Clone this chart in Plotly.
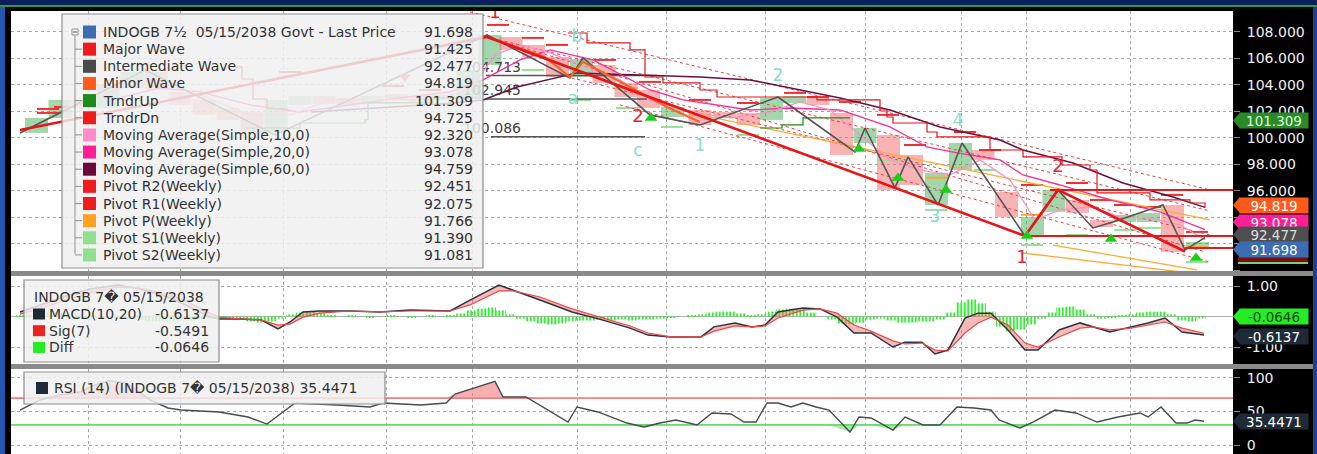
import plotly.graph_objects as go

# ---------------- data (day index, 1 day ~ 1 trading day) ----------------
month_ticks = [15.4, 33.8, 54.4, 75.0, 92.2, 113.2, 131.0, 150.8, 170.8, 190.0, 203.0, 223.8]

# weekly candles of the last price
candle_day = [5.1, 9.8, 14.6, 19.4, 24.2, 29.0, 33.8, 38.6, 43.4, 48.2, 53.0, 57.8, 62.6, 67.4,
              72.2, 77.0, 81.8, 86.6, 91.4, 95.8, 100.0, 104.5, 109.3, 114.1, 118.6, 123.0,
              127.5, 132.3, 137.8, 142.8, 147.5, 152.1, 156.7, 161.4, 166.1, 170.8, 175.5,
              180.1, 185.1, 189.9, 194.4, 199.1, 204.3, 208.6, 213.3, 218.1, 222.8, 227.5,
              232.3, 237.3]
candle_open = [100.38, 101.51, 102.87, 102.26, 103.77, 104.98, 103.47, 102.87, 102.26, 101.96,
               100.45, 102.49, 103.17, 103.02, 102.57, 103.32, 103.17, 102.87, 103.02, 105.51,
               107.62, 107.02, 106.11, 104.60, 105.51, 104.15, 103.62, 101.58, 102.11, 101.96,
               101.89, 101.36, 102.64, 103.09, 101.89, 99.62, 100.23, 98.72, 94.94, 97.58,
               99.09, 95.93, 92.68, 94.42, 95.32, 93.81, 93.66, 93.66, 94.94, 91.70]
candle_close = [101.51, 102.87, 102.26, 104.00, 104.98, 103.62, 102.49, 101.74, 101.36, 100.45,
                102.87, 103.17, 102.57, 102.42, 103.17, 102.87, 102.72, 103.25, 105.13, 107.77,
                106.64, 106.11, 104.60, 105.96, 104.15, 103.09, 102.26, 102.34, 100.98, 101.51,
                100.98, 103.02, 103.17, 102.49, 98.72, 100.75, 96.08, 96.45, 97.36, 99.62,
                98.34, 94.04, 94.04, 96.08, 94.34, 93.28, 94.19, 94.34, 91.40, 92.15]

major_day = [1.8, 95.2, 202.8, 209.4, 234.8]
major_px = [100.60, 107.62, 92.60, 96.08, 91.43]

inter_day = [1.8, 26.8, 52.8, 95.2, 111.8, 114.4, 127.8, 137.8, 153.4, 168.8, 170.8, 176.8,
             179.4, 185.4, 190.2, 202.8, 209.4, 216.4, 220.4, 230.4, 234.8, 238.8]
inter_px = [100.38, 105.13, 100.23, 107.77, 104.53, 106.04, 101.74, 100.98, 103.09, 98.94, 100.75,
            96.23, 98.57, 94.94, 99.62, 92.60, 96.08, 93.21, 93.66, 94.94, 91.55, 92.48]

minor_day = [95.2, 106.8, 111.8, 114.4, 131.2, 137.8, None, 202.8, 209.4]
minor_px = [107.62, 106.11, 104.60, 105.74, 102.34, 101.21, None, 92.60, 96.08]

level_px = [96.08, 92.60, 91.70]
level_from = [207.8, 202.8, 234.8]

trdn_day = [44.4, 46.2, 48.4, 51.2, 55.2, None, 111.4, 115.2, 123.8, 126.8, 130.4, 137.8, 141.2,
            161.2, 173.8, 175.2, 176.4, 183.2, 185.2, 195.8, 202.4, 210.2, 215.8, 217.2, 227.8,
            235.8, 238.8]
trdn_px = [105.36, 104.45, 102.94, 102.19, 102.11, None, 107.92, 107.17, 106.64, 104.60, 104.15,
           103.62, 103.09, 102.87, 102.11, 101.58, 101.13, 100.45, 100.08, 99.09, 98.57, 97.96,
           97.58, 95.85, 95.32, 95.09, 94.73]

trup_day = [46.8, 57.8, 70.8, 71.4, 84.4, 93.8, None, 149.8, 154.2, 158.4, 167.8]
trup_px = [100.75, 101.13, 101.36, 102.64, 103.02, 104.38, None, 100.75, 100.98, 101.51, 101.51]

ma60_day = [60.0, 73.8, 85.8, 94.4, 101.2, 113.2, 127.8, 137.8, 147.8, 155.8, 165.8, 175.8, 185.8,
            197.8, 202.4, 212.4, 222.4, 232.4, 238.8]
ma60_px = [101.96, 102.26, 102.57, 102.87, 103.85, 104.91, 104.75, 104.60, 104.38, 103.77, 103.02,
           102.11, 100.83, 99.85, 99.09, 98.11, 96.60, 95.55, 94.76]

ma20_day = [20.0, 29.8, 37.8, 47.8, 57.8, 67.8, 77.8, 87.8, 94.4, 101.8, 107.8, 116.4, 127.8, 134.4,
            147.8, 155.8, 165.8, 175.8, 183.2, 189.2, 197.8, 202.4, 209.8, 219.8, 229.8, 238.8]
ma20_px = [102.87, 103.77, 103.47, 102.49, 101.96, 102.49, 103.02, 103.47, 104.38, 105.89, 106.64,
           105.89, 103.62, 102.87, 102.11, 102.26, 102.11, 100.83, 99.32, 98.87, 98.34, 97.21,
           96.45, 95.32, 94.42, 93.08]

ma10_day = [10.0, 17.8, 27.8, 37.8, 47.8, 55.8, 63.8, 73.8, 83.8, 91.8, 96.8, 101.8, 107.8, 113.8,
            121.8, 127.8, 135.8, 143.8, 151.8, 157.8, 163.8, 169.8, 175.8, 181.8, 187.8, 193.8,
            199.8, 204.8, 209.8, 215.8, 221.8, 227.8, 233.8, 238.8]
ma10_px = [102.11, 103.25, 104.38, 103.25, 101.74, 101.74, 102.87, 102.87, 102.87, 103.62, 106.26,
           107.02, 106.42, 105.51, 104.38, 102.87, 101.96, 101.51, 101.96, 102.72, 102.11, 100.23,
           98.34, 97.58, 97.21, 98.34, 96.83, 93.81, 94.57, 94.79, 94.04, 93.96, 93.43, 92.32]

# regression / fan channel lines (start day, start price, end day, end price)
chan_red_x0 = [91.8, 95.2, 95.2, 109.8, 121.8]
chan_red_y0 = [109.51, 107.62, 107.62, 104.75, 102.49]
chan_red_x1 = [239.8, 239.8, 238.8, 239.8, 239.8]
chan_red_y1 = [96.08, 94.49, 91.40, 92.68, 90.64]
chan_org_x0 = [137.8, 202.4, 208.4]
chan_org_y0 = [101.74, 91.32, 91.92]
chan_org_x1 = [239.8, 235.8, 237.2]
chan_org_y1 = [93.81, 89.81, 90.04]

# weekly pivot dashes
pivot_r_day = [7.4, 7.4, 10.8, 55.8, 76.4, 83.8, 97.4, 104.4, 109.2, 118.8, 127.8, 137.8, 147.4,
               156.8, 161.4, 167.8, 175.4, 180.8, 190.8, 195.8, 204.2, 213.2, 218.0, 222.8,
               227.8, 232.2, 237.2]
pivot_r_px = [102.19, 101.89, 102.34, 104.98, 103.92, 103.62, 108.53, 107.55, 107.02, 105.89,
              104.23, 102.87, 102.64, 103.40, 103.09, 102.72, 101.74, 99.47, 100.45, 99.09,
              96.45, 96.60, 95.32, 94.94, 94.79, 95.70, 92.91]
pivot_p_day = [123.2, 137.8, 185.0, 204.2, 237.2]
pivot_p_px = [103.77, 101.74, 97.00, 94.20, 91.77]
pivot_s_day = [104.4, 113.8, 123.2, 132.2, 147.4, 175.4, 185.0, 194.8, 204.2, 213.2, 222.8, 227.8,
               237.2]
pivot_s_px = [105.13, 102.87, 102.26, 100.83, 100.23, 98.34, 94.57, 97.58, 91.92, 92.68, 93.06,
              93.21, 90.64]

fib_px = [104.713, 102.945, 100.086]
fib_from = [95.0, 95.0, 96.0]
fib_to = [129.2, 127.2, 126.8]
fib_label_day = [96.2, 96.2, 96.2]

wave_red_txt = ["1", "2", "1", "2"]
wave_red_day = [96.8, 125.4, 202.2, 209.4]
wave_red_px = [109.40, 101.51, 90.94, 97.74]
wave_teal_txt = ["b", "a", "c", "1", "2", "4", "3"]
wave_teal_day = [113.2, 112.4, 125.4, 137.8, 153.4, 189.4, 184.8]
wave_teal_px = [107.55, 102.87, 98.94, 99.32, 104.60, 101.21, 93.96]

up_day = [128.0, 169.6, 177.4, 187.0, 203.2, 220.0, 237.0]
up_px = [101.51, 99.17, 96.98, 96.08, 92.60, 92.38, 90.94]
dn_day = [78.8]
dn_px = [104.60]

# MACD panel
macd_day = [1.8, 5.8, 10.4, 15.8, 21.4, 25.8, 31.4, 35.8, 39.8, 41.6, 45.8, 50.0, 53.4, 55.8, 58.4,
            61.8, 67.8, 73.8, 79.8, 87.8, 91.8, 97.6, 100.4, 105.8, 112.2, 118.2, 123.8, 127.4,
            132.0, 138.0, 140.6, 144.8, 148.2, 150.8, 153.4, 158.4, 161.8, 165.2, 168.6, 172.0,
            176.4, 178.8, 182.2, 184.8, 187.4, 190.8, 193.4, 196.0, 199.4, 202.8, 205.4, 209.6,
            213.8, 216.4, 219.8, 224.0, 227.4, 230.8, 234.2, 238.6]
macd_val = [0.15, 0.38, 0.64, 0.90, 1.03, 0.90, 0.64, 0.31, -0.02, -0.08,
            -0.08, -0.11, -0.41, -0.18, 0.15, 0.18, 0.18, 0.15, 0.21, 0.18,
            0.54, 1.03, 0.87, 0.54, 0.15, -0.11, -0.38, -0.61, -0.67, -0.67,
            -0.34, -0.21, -0.34, -0.28, 0.15, 0.28, 0.25, -0.02, -0.54, -0.54,
            -1.00, -0.84, -0.84, -1.23, -1.10, -0.05, 0.11, 0.11, -0.44, -1.10,
            -1.10, -0.44, -0.21, -0.34, -0.51, -0.34, -0.21, -0.05, -0.51, -0.61]
sig_val = [0.08, 0.25, 0.51, 0.77, 0.97, 0.93, 0.74, 0.44, 0.11, -0.02,
           -0.08, -0.11, -0.28, -0.25, -0.02, 0.11, 0.18, 0.15, 0.18, 0.18,
           0.38, 0.84, 0.84, 0.64, 0.25, -0.05, -0.31, -0.54, -0.67, -0.67,
           -0.48, -0.31, -0.34, -0.31, -0.05, 0.21, 0.25, 0.11, -0.28, -0.48,
           -0.80, -0.90, -0.87, -1.10, -1.13, -0.54, -0.21, -0.02, -0.28, -0.87,
           -1.00, -0.67, -0.38, -0.34, -0.44, -0.38, -0.28, -0.18, -0.38, -0.55]
diff_day = list(range(0, 240, 2))
diff_val = [0, .03, .07, .10, .13, .13, .10, .07, .03, 0,
            -.03, -.07, -.10, -.13, -.16, -.16, -.16, -.13, -.13, -.10,
            -.07, -.03, -.07, -.10, -.16, -.20, -.16, -.07, .07, .13,
            .16, .10, .03, 0, .03, 0, -.03, 0, .03, 0,
            -.03, 0, .03, 0, .03, .10, .20, .26, .30, .20,
            .07, -.07, -.16, -.23, -.26, -.23, -.16, -.13, -.13, -.10,
            -.13, -.10, -.13, -.10, -.10, -.07, -.03, 0, .03, .07,
            .13, .16, .16, .10, .03, .07, .16, .23, .26, .23,
            .13, 0, -.10, -.23, -.26, -.20, -.10, -.07, -.13, -.20,
            -.20, -.16, -.16, -.10, .13, .46, .56, .43, .16, -.33,
            -.49, -.43, -.26, -.07, .13, .30, .33, .23, .07, -.07,
            -.03, .03, .07, .13, .16, .16, .07, -.13, -.16, -.06]

# RSI panel
rsi_day = [1.8, 5.8, 9.8, 13.8, 16.8, 19.6, 23.0, 27.8, 31.4, 34.0, 41.6, 47.4, 51.2, 56.8, 65.2,
           71.8, 74.4, 82.0, 87.0, 88.8, 96.8, 98.4, 103.0, 106.4, 111.4, 113.2, 117.4, 123.2,
           126.6, 129.8, 133.0, 137.2, 140.2, 144.0, 146.6, 149.0, 151.2, 153.4, 156.0, 158.4,
           161.0, 163.6, 167.8, 169.6, 172.0, 176.4, 178.8, 182.4, 185.8, 189.2, 192.6, 196.0,
           197.6, 201.8, 204.4, 208.8, 213.0, 217.2, 221.4, 225.8, 227.4, 230.0, 233.0, 235.2,
           236.8, 238.6]
rsi_val = [52.2, 67.2, 74.6, 79.1, 89.6, 96.0, 92.5, 67.2, 55.2, 52.2,
           49.3, 41.8, 31.3, 62.7, 59.7, 56.7, 62.7, 59.7, 62.7, 76.1,
           95.0, 71.6, 71.6, 56.7, 34.3, 56.7, 49.3, 32.8, 26.9, 32.8,
           37.3, 29.9, 47.8, 46.3, 34.3, 34.3, 62.7, 62.7, 56.7, 62.7,
           56.7, 52.2, 19.4, 41.8, 40.3, 22.4, 41.8, 29.9, 29.9, 56.7,
           55.2, 52.2, 37.3, 25.4, 34.3, 52.2, 47.8, 34.3, 41.8, 47.8,
           41.8, 56.7, 32.8, 32.8, 37.3, 35.45]

legend_names = ["INDOGB 7\u00bd  05/15/2038 Govt - Last Price", "Major Wave", "Intermediate Wave",
                "Minor Wave", "TrndrUp", "TrndrDn", "Moving Average(Simple,10,0)",
                "Moving Average(Simple,20,0)", "Moving Average(Simple,60,0)", "Pivot R2(Weekly)",
                "Pivot R1(Weekly)", "Pivot P(Weekly)", "Pivot S1(Weekly)", "Pivot S2(Weekly)"]
legend_values = ["91.698", "91.425", "92.477", "94.819", "101.309", "94.725", "92.320", "93.078",
                 "94.759", "92.451", "92.075", "91.766", "91.390", "91.081"]
legend_colors = ["#3b6db3", "#ee1c1c", "#4a4a4a", "#ff5a1a", "#1e8a1e", "#ee1c1c", "#ff8cc8",
                 "#ff1e96", "#6a0a3c", "#ee1c1c", "#ee1c1c", "#ffa020", "#8fe08f", "#8fe08f"]

macd_leg_title = "INDOGB 7\ufffd 05/15/2038"
macd_leg_names = ["MACD(10,20)", "Sig(7)", "Diff"]
macd_leg_values = ["-0.6137", "-0.5491", "-0.0646"]
macd_leg_colors = ["#1e2a36", "#ee2020", "#22ee22"]
rsi_leg_text = "RSI (14) (INDOGB 7\ufffd 05/15/2038) 35.4471"

# ---------------- geometry helpers (layout only) ----------------
W, H = 1317, 454
PL, PR, PT = 11, 1233, 11
X_MAX = 244.4
FONT = "DejaVu Sans"


def fx(x):
    return (x - PL) / (PR - PL)


def fy(y):
    return (H - y) / (H - PT)


def segs(x0, y0, x1, y1):
    xs, ys = [], []
    for a, b, c, d in zip(x0, y0, x1, y1):
        xs += [a, c, None]
        ys += [b, d, None]
    return xs, ys


def dashes(days, vals, half=2.2):
    return segs([d - half for d in days], vals, [d + half for d in days], vals)


fig = go.Figure()
M = dict(xaxis="x", yaxis="y")

# candles
lo = [min(o, c) for o, c in zip(candle_open, candle_close)]
hi = [abs(c - o) for o, c in zip(candle_open, candle_close)]
cc = ["rgba(70,175,90,0.5)" if c >= o else "rgba(242,105,105,0.5)"
      for o, c in zip(candle_open, candle_close)]
fig.add_trace(go.Bar(x=candle_day, y=hi, base=lo, width=4.6, marker=dict(color=cc, line_width=0), **M))

# pivots
for d, v, c in [(pivot_s_day, pivot_s_px, "#98e098"), (pivot_p_day, pivot_p_px, "#ffa630"),
                (pivot_r_day, pivot_r_px, "#ee3030")]:
    xs, ys = dashes(d, v)
    fig.add_trace(go.Scatter(x=xs, y=ys, mode="lines", line=dict(color=c, width=2), **M))

# channels
xs, ys = segs(chan_red_x0, chan_red_y0, chan_red_x1, chan_red_y1)
fig.add_trace(go.Scatter(x=xs, y=ys, mode="lines", line=dict(color="#ee4040", width=1, dash="dot"), **M))
xs, ys = segs(chan_org_x0, chan_org_y0, chan_org_x1, chan_org_y1)
fig.add_trace(go.Scatter(x=xs, y=ys, mode="lines", line=dict(color="#ffaa33", width=1.3), **M))

# fib retracement lines
xs, ys = segs(fib_from, fib_px, fib_to, fib_px)
fig.add_trace(go.Scatter(x=xs, y=ys, mode="lines", line=dict(color="#555555", width=1.5), **M))
fig.add_trace(go.Scatter(x=fib_label_day, y=fib_px, mode="text", text=[f"{v:.3f}" for v in fib_px],
                         textposition="top center", textfont=dict(family=FONT, size=14, color="#404040"), **M))

# moving averages
fig.add_trace(go.Scatter(x=ma60_day, y=ma60_px, mode="lines", line=dict(color="#6a1040", width=1.5), **M))
fig.add_trace(go.Scatter(x=ma20_day, y=ma20_px, mode="lines", line=dict(color="#ff2d95", width=1.3), **M))
fig.add_trace(go.Scatter(x=ma10_day, y=ma10_px, mode="lines", line=dict(color="#ff90c8", width=1.3), **M))

# trend steps
fig.add_trace(go.Scatter(x=trup_day, y=trup_px, mode="lines", line=dict(color="#1e8a1e", width=1.2, shape="hv"), **M))
fig.add_trace(go.Scatter(x=trdn_day, y=trdn_px, mode="lines", line=dict(color="#e8141a", width=1.2, shape="hv"), **M))

# waves
fig.add_trace(go.Scatter(x=inter_day, y=inter_px, mode="lines", line=dict(color="#555555", width=1.6), **M))
fig.add_trace(go.Scatter(x=minor_day, y=minor_px, mode="lines", line=dict(color="#ff6020", width=2.2), **M))
fig.add_trace(go.Scatter(x=major_day, y=major_px, mode="lines", line=dict(color="#e8141a", width=2.6), **M))
xs, ys = segs(level_from, level_px, [X_MAX] * len(level_px), level_px)
fig.add_trace(go.Scatter(x=xs, y=ys, mode="lines", line=dict(color="#e31a1c", width=2), **M))

# markers and wave labels
fig.add_trace(go.Scatter(x=up_day, y=up_px, mode="markers",
                         marker=dict(symbol="triangle-up", size=11, color="#16d016"), **M))
fig.add_trace(go.Scatter(x=dn_day, y=dn_px, mode="markers",
                         marker=dict(symbol="triangle-down", size=10, color="#ff5a5a"), **M))
fig.add_trace(go.Scatter(x=wave_red_day, y=wave_red_px, mode="text", text=wave_red_txt,
                         textfont=dict(family=FONT, size=18, color="#e8262a"), **M))
fig.add_trace(go.Scatter(x=wave_teal_day, y=wave_teal_px, mode="text", text=wave_teal_txt,
                         textfont=dict(family=FONT, size=17, color="#88ddcc"), **M))

# MACD panel
M2 = dict(xaxis="x2", yaxis="y2")
fig.add_trace(go.Bar(x=diff_day, y=diff_val, width=2.0,
                     marker=dict(color="#33ee33", line_width=0,
                                 pattern=dict(shape="|", fillmode="replace", fgcolor="#33ee33",
                                              bgcolor="rgba(0,0,0,0)", size=3.5, solidity=0.55)), **M2))
fig.add_trace(go.Scatter(x=macd_day, y=macd_val, mode="lines", line=dict(color="#2a3440", width=1.5), **M2))
fig.add_trace(go.Scatter(x=macd_day, y=sig_val, mode="lines", line=dict(color="#f04848", width=1.2),
                         fill="tonexty", fillcolor="rgba(240,100,100,0.45)", **M2))

# RSI panel
M3 = dict(xaxis="x3", yaxis="y3")
fig.add_trace(go.Scatter(x=rsi_day, y=[70] * len(rsi_day), mode="lines", line=dict(width=0), **M3))
fig.add_trace(go.Scatter(x=rsi_day, y=[max(v, 70) for v in rsi_val], mode="lines", line=dict(width=0),
                         fill="tonexty", fillcolor="rgba(240,110,110,0.55)", **M3))
fig.add_trace(go.Scatter(x=rsi_day, y=[30] * len(rsi_day), mode="lines", line=dict(width=0), **M3))
fig.add_trace(go.Scatter(x=rsi_day, y=[min(v, 30) for v in rsi_val], mode="lines", line=dict(width=0),
                         fill="tonexty", fillcolor="rgba(90,220,90,0.55)", **M3))
fig.add_trace(go.Scatter(x=[0, X_MAX], y=[70, 70], mode="lines", line=dict(color="#f08080", width=1.6), **M3))
fig.add_trace(go.Scatter(x=[0, X_MAX], y=[30, 30], mode="lines", line=dict(color="#66dd66", width=1.6), **M3))
fig.add_trace(go.Scatter(x=rsi_day, y=rsi_val, mode="lines", line=dict(color="#444c54", width=1.4), **M3))

# ---------------- axes ----------------
xcommon = dict(range=[0, X_MAX], tickvals=month_ticks, showticklabels=False, ticks="",
               showgrid=True, gridcolor="#a8a8a8", griddash="dot", gridwidth=1,
               zeroline=False, showline=False, fixedrange=True)
ycommon = dict(side="right", ticks="outside", ticklen=6, tickcolor="#8a8a8a", ticklabelstandoff=4,
               tickfont=dict(family=FONT, size=14, color="#f0f0f0"), showgrid=True,
               gridcolor="#a8a8a8", griddash="dot", gridwidth=1, showline=False, fixedrange=True)
main_ticks = [90, 92, 94, 96, 98, 100, 102, 104, 106, 108]
fig.update_layout(
    xaxis=dict(domain=[0, 1], anchor="y", **xcommon),
    xaxis2=dict(domain=[0, 1], anchor="y2", **xcommon),
    xaxis3=dict(domain=[0, 1], anchor="y3", **xcommon),
    yaxis=dict(domain=[fy(271), 1], anchor="x", range=[89.96, 109.58], tickvals=main_ticks,
               ticktext=[f"{v:.3f}" if v >= 96 else "" for v in main_ticks], zeroline=False, **ycommon),
    yaxis2=dict(domain=[fy(364), fy(276)], anchor="x2", range=[-1.557, 1.328], tickvals=[-1, 1],
                ticktext=["-1.00", "1.00"], zeroline=True, zerolinecolor="#b0b0b0", zerolinewidth=1, **ycommon),
    yaxis3=dict(domain=[0, fy(369)], anchor="x3", range=[-13.4, 113.4], tickvals=[0, 50, 100],
                ticktext=["0", "50", "100"], zeroline=False, **ycommon),
)

shapes = []


def rect(x0, y0, x1, y1, fill, line=None, lw=0, layer="above"):
    shapes.append(dict(type="rect", xref="paper", yref="paper", x0=fx(x0), x1=fx(x1), y0=fy(y1), y1=fy(y0),
                       fillcolor=fill, line=dict(color=line or fill, width=lw), layer=layer))


def hline(x0, x1, y, color, lw=1, dash=None):
    shapes.append(dict(type="line", xref="paper", yref="paper", x0=fx(x0), x1=fx(x1), y0=fy(y), y1=fy(y),
                       line=dict(color=color, width=lw, dash=dash), layer="above"))


def vline(x, y0, y1, color, lw=1, dash=None):
    shapes.append(dict(type="line", xref="paper", yref="paper", x0=fx(x), x1=fx(x), y0=fy(y0), y1=fy(y1),
                       line=dict(color=color, width=lw, dash=dash), layer="above"))


# frame: top band, side strips, panel separators
rect(0, 0, W, 5, "#0c1e5a")
rect(0, 5, W, 7, "#2f9a3f")
rect(0, 7, 5, H, "#2456b0")
rect(1313, 7, W, H, "#1c3f8f")
rect(PL, 271, 1313, 276, "#8a8a8a")
rect(PL, 364, 1313, 369, "#8a8a8a")

# main legend
rect(62, 14, 483, 268, "rgba(240,240,240,0.84)", "#8c8c8c", 1.2)
vline(75, 36, 254, "#909090")
rect(72, 29, 78, 35, "#f4f4f4", "#909090", 1)
hline(73, 77, 32, "#606060")
anns = []
for i, (nm, val, col) in enumerate(zip(legend_names, legend_values, legend_colors)):
    yc = 32 + 17.15 * i
    if i:
        hline(75, 82, yc, "#909090")
    rect(83, yc - 6.5, 96, yc + 6.5, col)
    anns.append(dict(x=fx(102), y=fy(yc), text=nm, xanchor="left", font_color="#333333"))
    anns.append(dict(x=fx(474), y=fy(yc), text=val, xanchor="right", font_color="#333333"))

# MACD legend
rect(24, 280, 219, 362, "rgba(240,240,240,0.84)", "#8c8c8c", 1.2)
anns.append(dict(x=fx(33), y=fy(297), text=macd_leg_title, xanchor="left", font_color="#333333"))
for i, (nm, val, col) in enumerate(zip(macd_leg_names, macd_leg_values, macd_leg_colors)):
    yc = 314 + 16.7 * i
    rect(33, yc - 5.5, 45, yc + 5.5, col)
    anns.append(dict(x=fx(48), y=fy(yc), text=nm, xanchor="left", font_color="#333333"))
    anns.append(dict(x=fx(210), y=fy(yc), text=val, xanchor="right", font_color="#333333"))

# RSI legend
rect(24, 372, 385, 404, "rgba(240,240,240,0.84)", "#8c8c8c", 1.2)
rect(36, 382, 48, 394, "#1e2a36")
anns.append(dict(x=fx(53), y=fy(388), text=rsi_leg_text, xanchor="left", font_color="#333333"))


# right-hand value tags
def tag(text, yc, bg, fg):
    shapes.append(dict(type="path", xref="paper", yref="paper", layer="above",
                       path=f"M {fx(1233)},{fy(yc)} L {fx(1240)},{fy(yc - 8)} L {fx(1240)},{fy(yc + 8)} Z",
                       fillcolor=bg, line=dict(width=0)))
    anns.append(dict(x=fx(1274), y=fy(yc), text=text, xanchor="center", font_color=fg,
                     bgcolor=bg, width=68, height=15, size=13.5))


tag("93.078", 222, "#ff1e96", "#ffffff")
tag("92.477", 234.5, "#4e4e4e", "#dddddd")
rect(1238, 257, 1308, 262, "#7a0c10")
rect(1238, 262, 1308, 264, "#7ad07a")
tag("91.698", 249.5, "#3b6db3", "#ffffff")
tag("94.819", 205, "#ff5a1a", "#ffffff")
tag("101.309", 120.5, "#2a8a2a", "#dcffd4")
tag("-0.0646", 316.5, "#22ee22", "#104010")
tag("-0.6137", 336, "#1e2a36", "#ffffff")
tag("35.4471", 421, "#1e2a36", "#ffffff")

for a in anns:
    fc = a.pop("font_color")
    sz = a.pop("size", 14)
    a.update(xref="paper", yref="paper", showarrow=False, yanchor="middle",
             font=dict(family=FONT, size=sz, color=fc), borderpad=0)
    fig.add_annotation(**a)

fig.update_layout(
    width=W, height=H, margin=dict(l=PL, r=W - PR, t=PT, b=0, pad=0, autoexpand=False),
    paper_bgcolor="#000000", plot_bgcolor="#ffffff", showlegend=False,
    hovermode=False, barmode="overlay", shapes=shapes,
)

# the page body has a default 8px margin; drop it so the chart sits flush in the window
fig.write_html("out.html", config={"displayModeBar": False},
               post_script="document.body.style.margin='0';document.body.style.overflow='hidden';")
